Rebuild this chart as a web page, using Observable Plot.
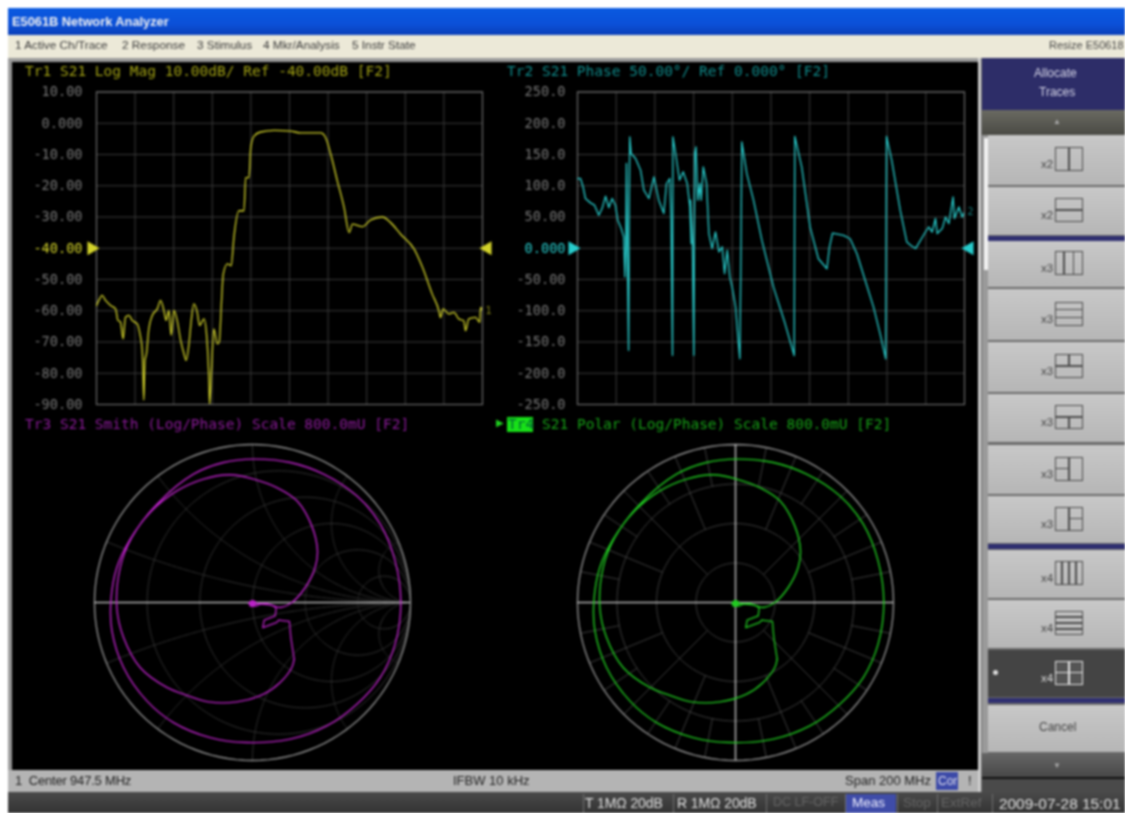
<!DOCTYPE html>
<html><head><meta charset="utf-8">
<script src="https://cdn.jsdelivr.net/npm/d3@7"></script>
<script src="https://cdn.jsdelivr.net/npm/@observablehq/plot@0.6"></script>
<style>
html,body{margin:0;padding:0;background:#fff;width:1125px;height:813px;overflow:hidden}
#app{position:absolute;left:0;top:0;width:1125px;height:813px;overflow:hidden;filter:blur(.8px);font-family:"Liberation Sans",sans-serif}
.a{position:absolute;white-space:pre}
.m{font-family:"DejaVu Sans Mono",monospace;font-size:14.5px;line-height:18px}
svg{overflow:visible}
</style></head><body><div id="app"></div>
<script>
// ---- Trace 1: S21 log magnitude
const t1Freq=[847.5,848.7,850.4,852.2,854.8,857.4,858.6,859.9,861.3,862.5,864.3,866.0,868.6,870.0,871.2,871.7,872.0,872.6,873.4,874.6,876.4,879.0,880.7,882.4,883.6,885.0,886.2,887.6,889.3,891.1,892.8,894.0,895.4,896.6,897.9,899.7,900.9,903.2,904.5,905.8,906.1,907.0,908.3,910.1,911.1,912.3,913.2,915.3,917.3,918.7,921.3,923.9,924.8,926.5,927.4,929.1,932.5,939.5,948.1,953.3,963.7,966.3,968.9,972.3,975.8,978.4,980.1,985.3,989.6,995.6,999.9,1005.1,1012.1,1016.4,1021.4,1024.9,1025.7,1027.1,1030,1032.7,1035.2,1037.8,1038.7,1040.4,1043.9,1046.1,1046.5,1047.5];
const t1Mag=[-58.3,-56.7,-55.1,-56.7,-58.3,-59.4,-63.1,-63.6,-69.0,-62.1,-61.5,-63.1,-64.2,-67.4,-72.7,-82.2,-88.6,-75.9,-73.7,-65.8,-61.5,-59.4,-56.7,-59.9,-63.1,-59.9,-67.9,-59.9,-63.1,-69.5,-73.7,-75.9,-70.6,-63.1,-57.8,-60.5,-64.7,-62.6,-67.4,-83.3,-90,-80.1,-65.8,-70.6,-70.0,-56.7,-48.2,-45.0,-45.6,-36.5,-28.0,-28.0,-17.4,-17.4,-7.9,-4.1,-2.8,-2.3,-2.5,-3.1,-3.1,-4.7,-10.0,-18.5,-27.0,-35.0,-32.3,-33.1,-30.9,-30.0,-31.8,-35.5,-40.3,-46.1,-54.6,-60,-62.2,-59.4,-61,-60.5,-62.6,-63.2,-66.4,-62.6,-62.1,-63.7,-58.9,-60];
// ---- Trace 2: S21 phase
const t2Freq=[847.5,849.05,850.4,851.6,854.2,856.3,858.5,860.2,862,863.7,865.4,867.1,868.3,870.1,871.4,872,872.5,872.8,873.3,873.9,874.2,874.5,875.2,877.5,880.1,881.8,884.4,887,889.5,892.1,893.5,895.2,895.9,896.6,896.8,898.2,900.2,902.1,904.2,905.6,906.3,905.9,906.9,907.6,908.1,908.7,909.7,910.7,911.4,912.5,914.2,915.4,917.1,918.8,920.6,922.3,923.5,924.9,926.2,927.4,929.2,930.4,931.4,932,932.4,935.0,938.5,942.8,948.8,954.8,959.5,959.8,963.4,967.7,972.0,976.4,977.7,979.3,985.0,988.4,991.9,996.2,1000.5,1003.9,1006.8,1007.2,1009.9,1014.3,1017.7,1019.8,1022.2,1027.3,1029,1030.8,1032.5,1033.4,1036,1037.7,1039.4,1041.6,1042.3,1044.6,1046.3,1047.5];
const t2Phase=[111.3,111.6,98,79.6,72.6,68.9,52.9,63.5,83.3,65.1,79.6,68.9,44.9,31.5,18.2,-45.9,7.5,135.6,-8.5,-163.3,44.9,178.3,151.6,143.6,124.9,92.9,79.6,114.3,76.9,55.5,103.6,111.6,44.9,-171.3,178.3,151.6,108.9,122.3,103.6,66.2,7.5,76.9,7.5,-171.3,151.6,162.3,76.9,103.6,76.9,130.3,103.6,23.5,-0.5,26.2,-5.9,2.2,-40.6,-3.2,-45.9,-61.9,-94,-142,-176.7,2.2,170.3,119.3,76.6,12.5,-62.2,-120.9,-171.6,179,129.9,33.9,-16.8,-32.8,1.9,24.3,20.5,15.2,-8.8,-51.5,-94.2,-136.9,-176.9,179,140.6,60.6,9.9,4.5,-0.5,26,34,26,47.6,23.5,31.5,50,39.5,82,47.6,66,50,58];
// ---- Complex S21 (U), shared by Smith and Polar: the stepped part near the centre, then the spiral
const kinkRe=[0,-.02,.014,-.012,.019,.039,.073,.106,.12,.115,.059,.052,.123,.132,.187,.194,.211];
const kinkIm=[-.005,-.005,.005,-.017,-.017,-.008,-.005,-.017,-.029,-.068,-.089,-.127,-.101,-.089,-.096,-.177,-.287];
const spiralRe=[.211,.199,.14,.056,-.079,-.223,-.349,-.434,-.569,-.653,-.687,-.67,-.611,-.484,-.299,-.147,.005,.191,.36,.528,.647,.722,.751,.722,.647,.528,.376,.191,-.029,-.214,-.4,-.535,-.653,-.712,-.717,-.687,-.619,-.518,-.383,-.248,-.113,.005,.123,.225,.3,.329,.317,.267,.199,.14,.089,.014];
const spiralIm=[-.287,-.329,-.405,-.464,-.503,-.503,-.464,-.43,-.329,-.177,-.025,.177,.329,.498,.65,.709,.726,.709,.65,.54,.397,.211,0,-.211,-.38,-.515,-.625,-.692,-.709,-.684,-.608,-.498,-.329,-.143,.008,.177,.321,.456,.565,.625,.647,.625,.582,.515,.388,.262,.177,.076,0,-.025,-.012,-.005];
// ---- Axes
const freqGrid=[847.5,867.5,887.5,907.5,927.5,947.5,967.5,987.5,1007.5,1027.5,1047.5];
const magTicks=[10,0,-10,-20,-30,-40,-50,-60,-70,-80,-90];
const magLabels=["10.00","0.000","-10.00","-20.00","-30.00","-40.00","-50.00","-60.00","-70.00","-80.00","-90.00"];
const phaseTicks=[250,200,150,100,50,0,-50,-100,-150,-200,-250];
const phaseLabels=["250.0","200.0","150.0","100.0","50.00","0.000","-50.00","-100.0","-150.0","-200.0","-250.0"];
const smithValues=[.2,.5,1,2,5];
const polarRings=[.2,.4,.6];
const spokes45=[45,135,225,315];
const spokes22=[22.5,67.5,112.5,157.5,202.5,247.5,292.5,337.5];
const spokes11=[11.25,33.75,56.25,78.75,101.25,123.75,146.25,168.75,191.25,213.75,236.25,258.75,281.25,303.75,326.25,348.75];
// ---- Interface text
const menuItems=[["1 Active Ch/Trace",15],["2 Response",122],["3 Stimulus",197],["4 Mkr/Analysis",263],["5 Instr State",352]];
const buttons=[[135,50,"x2","c",2],[187,48,"x2","r",2],[241,46,"x3","c",3],[289,51,"x3","r",3],[342,50,"x3","tt",0],[394,48,"x3","tb",0],[445,49,"x3","lt",0],[496,47,"x3","rt",0],[550,48,"x4","c",4],[600,48,"x4","r",4],[650,47,"x4","g",0]];
const dividers=[236,544,698];
const statusCells=[["T 1MΩ 20dB",585,"#e0e0e0",14,-.1],["R 1MΩ 20dB",677,"#e0e0e0",14,-.1],["DC LF-OFF",773,"#666",12.5,0],["Meas",852,"#eef",13.5,0],["Stop",903,"#666",13.5,0],["ExtRef",941,"#666",13.5,0],["2009-07-28 15:01",999,"#e0e0e0",15.4,0]];
const cellEdges=[583,673,766,845,897,937,992];

const app=document.getElementById("app");
function box(l,t,w,h,bg,extra){const d=document.createElement("div");d.className="a";d.style.cssText=`left:${l}px;top:${t}px;width:${w}px;height:${h}px;background:${bg};`+(extra||"");app.append(d);return d;}
function txt(s,l,t,color,extra,cls){const d=document.createElement("div");d.className="a"+(cls?" "+cls:"");d.textContent=s;d.style.cssText=`left:${l}px;top:${t}px;color:${color};`+(extra||"");app.append(d);return d;}
function place(node,l,t){node.style.position="absolute";node.style.left=l+"px";node.style.top=t+"px";node.style.background="transparent";app.append(node);}

// ---- Window chrome
box(8,8,1117,27,"linear-gradient(#0a5ae0,#0b50d8 60%,#0a3fb8)");
txt("E5061B Network Analyzer",12,14,"#f0f0f0","font-weight:bold;font-size:12.8px");
box(8,35,1117,23,"#ece9d8");
menuItems.forEach(([s,x])=>txt(s,x,38,"#3a3a3a","font-size:11.8px"));
txt("Resize E50618",1049,39,"#444","font-size:11px");
box(8,58,1117,734,"#9a9a9a");
box(12,62,966,708,"#000");
box(8,770,972,22,"#b4b4b4");
txt("1  Center 947.5 MHz",15,773,"#222","font-size:13px;letter-spacing:-.2px");
txt("IFBW 10 kHz",453,773,"#222","font-size:13px");
txt("Span 200 MHz",845,773,"#222","font-size:13px");
box(936,772,22,18,"#3c4aa8");
txt("Cor",938,774,"#dde","font-size:12px");
txt("!",968,773,"#222","font-size:13px");
box(8,792,1117,21,"linear-gradient(#4a4a4a,#333)");
box(846,794,50,19,"#3f4ca8");
cellEdges.forEach(x=>box(x,794,1,19,"#6f6f6f"));
statusCells.forEach(([s,x,c,fs,ls])=>txt(s,x,795,c,`font-size:${fs}px;letter-spacing:${ls}px`));

// ---- Softkey panel
box(980,58,145,734,"#6b6b6b");
box(982,58,143,52,"#2d2d68");
txt("Allocate",1034,66,"#d8d8e8","font-size:12px");
txt("Traces",1039,85,"#d8d8e8","font-size:12px");
box(982,110,143,25,"linear-gradient(#6a6a62,#4a4a44)");
txt("▲",1053,117,"#aaa","font-size:8px");
box(982,135,6,640,"#9a9a9a");
box(984,138,4,132,"#f2f2f2");
box(978,58,3,734,"#cfcfcf");
dividers.forEach(y=>box(988,y,137,5,"#2f2f70"));
const ink="#4a4a4a";
buttons.forEach(([y,h,label,kind,n])=>{
  const on=kind==="g";
  box(988,y,137,h,on?"#444":"linear-gradient(#c8c8c8,#b6b6b6)");
  const cy=y+h/2-1, L=1055,T=cy-12,W=28,H=24,c=on?"#e6e6e6":ink;
  const ln=(x,yy,w,hh)=>box(x,yy,w,hh,c);
  box(L,T,W,H,on?"#555":"transparent",`border:1.6px solid ${c};box-sizing:border-box`);
  if(kind==="c")for(let i=1;i<n;i++)ln(L+W*i/n-1,T,1.6,H);
  if(kind==="r")for(let i=1;i<n;i++)ln(L,T+H*i/n-1,W,1.6);
  if(kind==="g"){ln(L+W/2-1,T,1.6,H);ln(L,T+H/2-1,W,1.6);}
  if(kind==="tt"){ln(L,T+H/2-1,W,1.6);ln(L+W/2-1,T,1.6,H/2);}
  if(kind==="tb"){ln(L,T+H/2-1,W,1.6);ln(L+W/2-1,T+H/2,1.6,H/2);}
  if(kind==="lt"){ln(L+W/2-1,T,1.6,H);ln(L,T+H/2-1,W/2,1.6);}
  if(kind==="rt"){ln(L+W/2-1,T,1.6,H);ln(L+W/2,T+H/2-1,W/2,1.6);}
  txt(label,1041,cy-1,on?"#ddd":"#444","font-size:11.5px");
  if(on)box(993,cy-3,5,5,"#ddd","border-radius:50%");
});
box(988,705,137,47,"linear-gradient(#c8c8c8,#b6b6b6)");
txt("Cancel",1039,720,"#444","font-size:12px");
box(982,753,143,24,"linear-gradient(#666,#484848)");
txt("▼",1053,761,"#aaa","font-size:8px");
box(982,777,143,2,"#111");
box(982,779,143,13,"#4a4a4a");

// ---- Titles
txt("Tr1 S21 Log Mag 10.00dB/ Ref -40.00dB [F2]",25,62,"#a0a014","","m");
txt("Tr2 S21 Phase 50.00°/ Ref 0.000° [F2]",507,62,"#0f8a8a","","m");
txt("Tr3 S21 Smith (Log/Phase) Scale 800.0mU [F2]",25,415,"#8a1a98","","m");
txt("▶",496,417,"#1fd01f","font-size:10px");
box(507,417,26,15,"#18e018");
txt("Tr4",508,415,"#063","","m");
txt("S21 Polar (Log/Phase) Scale 800.0mU [F2]",542,415,"#16a016","","m");

// ---- Cartesian panels
const gridCol="#3a3a3a", frameCol="#6a6a6a", labelCol="#767676";
function cart({l,w,mL,mR,lab:dxLab,ticks,labels,ref,col,fx,fy,dom,endTag,curve}){
  const lab=new Map(ticks.map((t,i)=>[t,labels[i]]));
  const p=Plot.plot({width:w,height:355,marginLeft:mL,marginRight:mR,marginTop:29.5,marginBottom:13,
    x:{domain:[847.5,1047.5],axis:null},y:{domain:dom,axis:null},
    style:{background:"transparent",overflow:"visible"},
    marks:[
      Plot.ruleX(freqGrid,{stroke:gridCol,strokeWidth:1}),
      Plot.ruleY(ticks,{stroke:gridCol,strokeWidth:1}),
      Plot.frame({stroke:frameCol,strokeWidth:1.2}),
      Plot.text(ticks.filter(t=>t!==ref),{x:847.5,y:d=>d,text:d=>lab.get(d),textAnchor:"end",dx:dxLab,fill:labelCol,fontFamily:"DejaVu Sans Mono",fontSize:13.6}),
      Plot.text([ref],{x:847.5,y:d=>d,text:d=>lab.get(d),textAnchor:"end",dx:dxLab,fill:col,fontFamily:"DejaVu Sans Mono",fontSize:13.6}),
      Plot.dot([ref],{x:847.5,y:d=>d,symbol:"triangle",rotate:90,r:5.2,fill:col,dx:-5}),
      Plot.dot([ref],{x:1047.5,y:d=>d,symbol:"triangle",rotate:-90,r:5.2,fill:col,dx:5}),
      Plot.line(fy,{x:fx,y:fy,stroke:col,strokeWidth:1.35,strokeLinejoin:"round",clip:true,curve}),
      Plot.text([fy[fy.length-1]],{x:1047.5,y:d=>d,text:[endTag],dx:3,textAnchor:"start",fill:col,opacity:.6,fontFamily:"DejaVu Sans Mono",fontSize:10})
    ]});
  place(p,l,62);
}
cart({l:12,w:480,mL:84,mR:10,lab:-14,ticks:magTicks,labels:magLabels,ref:-40,col:"#d2d22a",fx:t1Freq,fy:t1Mag,dom:[-90,10],endTag:"1",curve:"monotone-x"});
cart({l:492,w:486,mL:85,mR:14,lab:-12,ticks:phaseTicks,labels:phaseLabels,ref:0,col:"#28cccc",fx:t2Freq,fy:t2Phase,dom:[-250,250],endTag:"2",curve:"linear"});

// ---- Smith and polar panels
const FS=.8, steps=d3.range(0,241);
const gam=(r,x)=>{const d=(r+1)*(r+1)+x*x;return [FS*(r*r+x*x-1)/d,FS*2*x/d];};
const smithGrid=[];
smithValues.forEach(v=>{
  steps.forEach(i=>{const th=-Math.PI/2+Math.PI*(i+.5)/241,g=gam(v,Math.tan(th));smithGrid.push({re:g[0],im:g[1],k:"r"+v});});
  [1,-1].forEach(s=>steps.forEach(i=>{const th=Math.PI/2*(i+.5)/241,g=gam(Math.tan(th),s*v);smithGrid.push({re:g[0],im:g[1],k:"x"+s*v});}));
});
const ring=(r,k)=>d3.range(0,361,3).map(a=>({re:r*Math.cos(a*Math.PI/180),im:r*Math.sin(a*Math.PI/180),k}));
const spoke=(a,r0)=>[r0,.8].map(r=>({re:r*Math.cos(a*Math.PI/180),im:r*Math.sin(a*Math.PI/180),k:"s"+a}));
const polarGrid=[...polarRings.flatMap(r=>ring(r,"c"+r)),...spokes45.flatMap(a=>spoke(a,.2)),...spokes22.flatMap(a=>spoke(a,.4)),...spokes11.flatMap(a=>spoke(a,.6))];
function round({l,w,mL,mR,grid,col,cross,gridCol}){
  const p=Plot.plot({width:w,height:350,marginLeft:mL,marginRight:mR,marginTop:24,marginBottom:10,
    x:{domain:[-.8,.8],axis:null},y:{domain:[-.8,.8],axis:null},
    style:{background:"transparent",overflow:"visible"},
    marks:[
      Plot.line(grid,{x:"re",y:"im",z:"k",stroke:gridCol,strokeWidth:1}),
      Plot.line(ring(.8,"o"),{x:"re",y:"im",stroke:"#8f8f8f",strokeWidth:1.4}),
      Plot.ruleY([0],{x1:-.8,x2:.8,stroke:"#b5b5b5",strokeWidth:1.5}),
      cross?Plot.ruleX([0],{y1:-.8,y2:.8,stroke:"#b5b5b5",strokeWidth:1.5}):null,
      Plot.line(kinkRe,{x:kinkRe,y:kinkIm,stroke:col,strokeWidth:1.3,strokeLinejoin:"round"}),
      Plot.line(spiralRe,{x:spiralRe,y:spiralIm,stroke:col,strokeWidth:1.4,curve:"catmull-rom"}),
      Plot.dot([0],{x:0,y:-.005,r:3.5,fill:col})
    ]});
  place(p,l,420);
}
round({l:12,w:480,mL:82,mR:82,grid:smithGrid,col:"#bc22c8",cross:false,gridCol:"#303030"});
round({l:492,w:486,mL:85,mR:85,grid:polarGrid,col:"#20cc20",cross:true,gridCol:"#3c3c3c"});
</script></body></html>
